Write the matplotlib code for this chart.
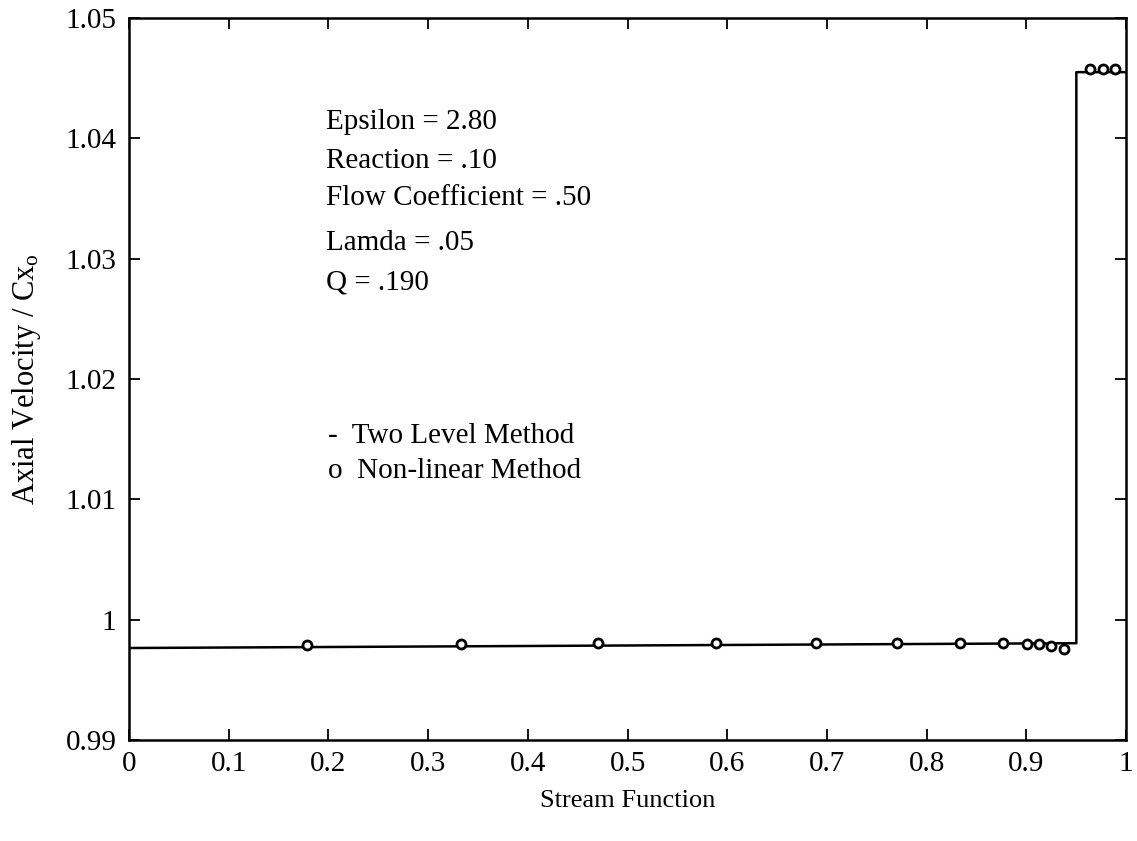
import matplotlib
matplotlib.use("Agg")
import matplotlib.pyplot as plt
from matplotlib.ticker import FuncFormatter

plt.rcParams['font.family'] = ['Liberation Serif', 'DejaVu Serif']
plt.rcParams['mathtext.default'] = 'regular'

# Two level method: axial velocity along the stream function
two_level_psi = [0.0, 0.95, 0.95, 1.0]
two_level_cx = [0.99765, 0.99805, 1.0455, 1.0455]

# Non-linear method solution points
nonlin_psi = [0.178, 0.333, 0.470, 0.589, 0.689, 0.770, 0.833, 0.876,
              0.901, 0.913, 0.925, 0.938, 0.964, 0.977, 0.989]
nonlin_cx = [0.99790, 0.99800, 0.99805, 0.99808, 0.99808, 0.99806, 0.99806, 0.99806,
             0.99800, 0.99795, 0.99778, 0.99760, 1.0458, 1.0458, 1.0458]

params = ["Epsilon = 2.80", "Reaction = .10", "Flow Coefficient = .50",
          "Lamda = .05", "Q = .190"]
params_y = [1.04135, 1.03811, 1.03504, 1.03130, 1.02805]
legend_lines = ["-  Two Level Method", "o  Non-linear Method"]
legend_y = [1.01530, 1.01235]

fig = plt.figure(figsize=(11.37, 8.41), dpi=100)
ax = fig.add_axes([0.1135, 0.120, 0.877, 0.8586])

ax.plot(two_level_psi, two_level_cx, color='black', lw=1.8)
ax.plot(nonlin_psi, nonlin_cx, 'o', ms=6.5, mfc='white', mec='black', mew=2)

ax.set_xlim(0, 1)
ax.set_ylim(0.99, 1.05)
ax.set_xticks([i / 10 for i in range(11)])
ax.set_yticks([0.99, 1.0, 1.01, 1.02, 1.03, 1.04, 1.05])
ax.xaxis.set_major_formatter(FuncFormatter(lambda v, p: f"{v:g}"))
ax.yaxis.set_major_formatter(FuncFormatter(lambda v, p: f"{round(v, 2):g}"))
ax.tick_params(direction='in', length=8, width=1.3, labelsize=21,
               top=True, right=True)
ax.tick_params(axis='x', pad=8)
ax.tick_params(axis='y', pad=9)
for s in ax.spines.values():
    s.set_linewidth(1.8)

ax.set_xlabel("Stream Function", fontsize=19, labelpad=9)
ax.set_ylabel("Axial Velocity / Cx$_o$", fontsize=22, labelpad=16)

for line, y in zip(params, params_y):
    ax.text(0.198, y, line, fontsize=21, va='center', ha='left')
for line, y in zip(legend_lines, legend_y):
    ax.text(0.200, y, line, fontsize=21, va='center', ha='left')

fig.savefig("out.png", dpi=100)
